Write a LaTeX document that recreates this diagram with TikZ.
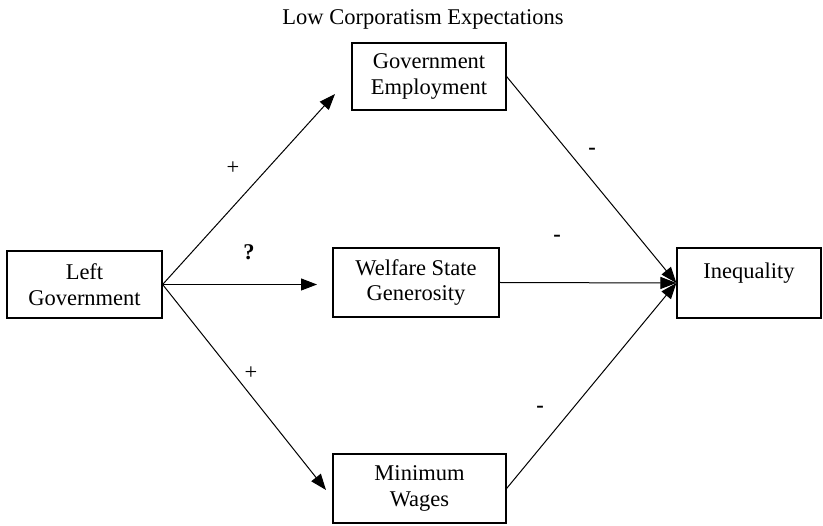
\documentclass[tikz,border=0pt]{standalone}
\usepackage{fontspec}
\setmainfont{Liberation Serif}
\usetikzlibrary{arrows.meta,positioning}

\begin{document}
\begin{tikzpicture}[x=1pt,y=-1pt]
% box shape and arrow style
\tikzstyle{box}=[draw=black,line width=1.2pt,align=center,inner sep=0pt,font=\fontsize{22.5}{25.5}\selectfont]
\tikzstyle{link}=[line width=1pt,-{Triangle[length=16pt,width=12pt]}]
\tikzstyle{sign}=[font=\fontsize{22.5}{25.5}\selectfont]

\useasboundingbox (0,0) rectangle (823,526);

% title
\node[sign] (title) at (423,19) {Low Corporatism Expectations};

% nodes
\node[box,minimum width=155pt,minimum height=67pt] (leftgov) at (84.5,284.5) {Left\\Government};
\node[box,minimum width=154pt,minimum height=67pt] (govemp) at (429,76.5) {Government\\Employment};
\node[box,minimum width=166pt,minimum height=69pt] (welfare) at (416,282.5) {Welfare State\\Generosity};
\node[box,minimum width=173pt,minimum height=69pt] (minwage) at (419.5,488.5) {Minimum\\Wages};
\node[box,minimum width=144pt,minimum height=70pt] (ineq) at (749,283) {Inequality\\\mbox{}};

% arrow tips
\coordinate (govtip) at (335,94);
\coordinate (weltip) at (317,284.5);
\coordinate (mintip) at (326,490);

% arrows
\foreach \tip in {govtip,weltip,mintip}
\draw[link] (leftgov.east) -- (\tip);
\foreach \from in {govemp,welfare,minwage}
\draw[link] (\from.east) -- (ineq.west);

% signs
\node[sign] (plusup) at (233,168) {+};
\node[sign] (quest) at (249,252) {\textbf{?}};
\node[sign] (pluslow) at (251,373) {+};
\node[sign] (minusup) at (592,151) {\textbf{-}};
\node[sign] (minusmid) at (557,238) {\textbf{-}};
\node[sign] (minuslow) at (540,409) {\textbf{-}};
\end{tikzpicture}
\end{document}
